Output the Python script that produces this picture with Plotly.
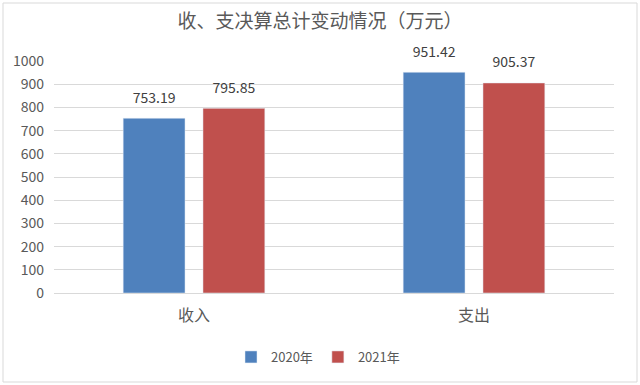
import plotly.graph_objects as go

categories = ["收入", "支出"]
series_names = ["2020年", "2021年"]
values_2020 = [753.19, 951.42]
values_2021 = [795.85, 905.37]
colors = ["#4F81BD", "#C0504D"]
y_ticks = list(range(0, 1001, 100))

FONT = "Noto Sans CJK SC"
W, H = 640, 385
L, R, T, B = 54, 26, 61, 92
GAP = 0.43

fig = go.Figure()
for i, (name, vals, col) in enumerate(zip(series_names, [values_2020, values_2021], colors)):
    fig.add_trace(go.Bar(
        x=categories, y=vals, name=name, marker_color=col,
        offsetgroup=str(i),
    ))
for i, vals in enumerate([values_2020, values_2021]):
    fig.add_trace(go.Scatter(
        x=categories, y=vals, mode="markers+text", showlegend=False,
        offsetgroup=str(i), hoverinfo="skip",
        marker=dict(size=18, opacity=0),
        text=[f"{v:.2f}" for v in vals], textposition="top center",
        textfont=dict(family=FONT, size=14, color="#404040"),
        cliponaxis=False,
    ))

pw = W - L - R
ph = H - T - B
fig.update_layout(
    width=W, height=H,
    margin=dict(l=L, r=R, t=T, b=B),
    paper_bgcolor="white", plot_bgcolor="white",
    barmode="group", bargap=GAP, bargroupgap=0.225,
    scattermode="group", scattergap=GAP,
    title=dict(text="收、支决算总计变动情况（万元）", x=0.5, xanchor="center",
               xref="container",
               y=1 - 21 / H, yanchor="middle",
               font=dict(family=FONT, size=19, color="#595959")),
    font=dict(family=FONT, color="#595959"),
    showlegend=True,
    legend=dict(orientation="h", x=(320 - L - 2) / pw, xanchor="center", y=-(357 - T - ph) / ph, yanchor="middle",
                font=dict(family=FONT, size=13, color="#595959"), traceorder="normal",
                itemwidth=30),
    xaxis=dict(showline=True, linecolor="#D9D9D9", linewidth=1, ticks="",
               ticklabelstandoff=8,
               tickfont=dict(family=FONT, size=16, color="#595959")),
    yaxis=dict(range=[0, 1000], tickvals=y_ticks, showgrid=True, gridcolor="#D9D9D9",
               zeroline=False, showline=False, ticks="", ticklabelstandoff=9,
               tickfont=dict(family=FONT, size=14, color="#595959")),
    shapes=[dict(type="rect", xref="paper", yref="paper",
                 x0=(3 - L) / pw, x1=(W - 3 - L) / pw,
                 y0=-(H - 3 - T - ph) / ph, y1=1 + (T - 3) / ph,
                 line=dict(color="#D9D9D9", width=1), fillcolor="rgba(0,0,0,0)",
                 layer="below")],
)
fig.write_html("out.html", config={"displayModeBar": False},
               post_script="document.body.style.margin='0';document.body.style.padding='0';")
